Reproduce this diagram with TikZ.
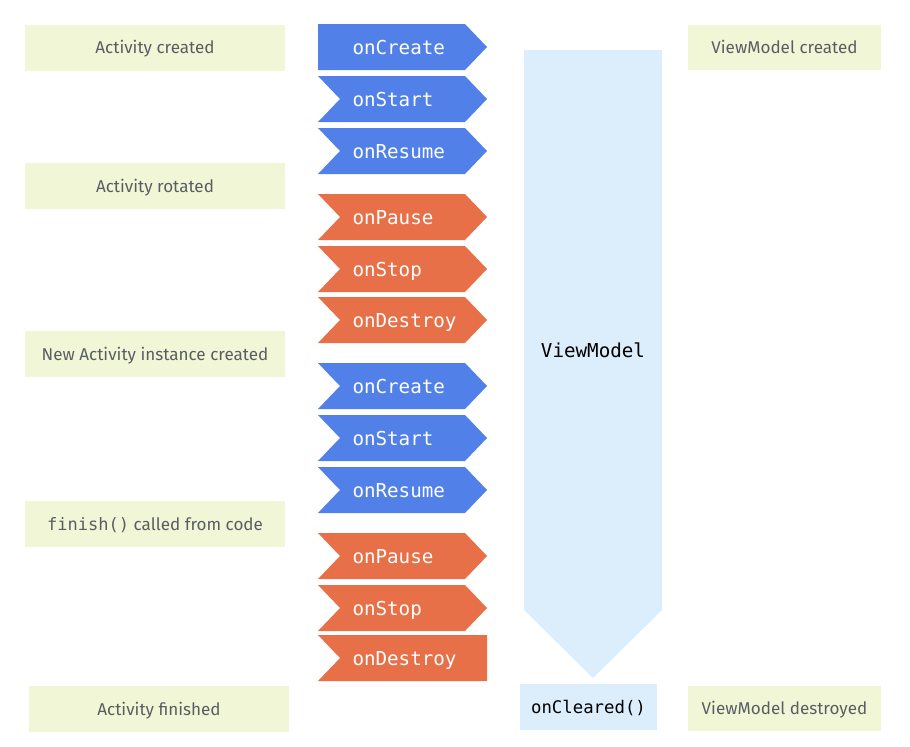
\documentclass[tikz,border=0pt]{standalone}
\usepackage{fontspec}
\setmainfont{Fira Sans}
\setmonofont{DejaVu Sans Mono}

\definecolor{cbBlue}{RGB}{80,128,232}
\definecolor{cbOrange}{RGB}{232,112,72}
\definecolor{cbGreen}{RGB}{241,246,214}
\definecolor{cbSky}{RGB}{220,238,252}
\definecolor{cbGrey}{RGB}{90,94,99}

\tikzset{every picture/.style={line width=0.75pt}}
\tikzset{
	eventBox/.style={fill=cbGreen, draw=none, minimum width=195pt, minimum height=34.5pt, inner sep=0pt, text=cbGrey, text height=0.9em, text depth=0em, font=\fontsize{12.8}{15}\selectfont},
	vmBox/.style={eventBox, minimum width=144.75pt, minimum height=33.75pt},
	stageText/.style={anchor=west, inner sep=0pt, text=white, text height=0.85em, text depth=0.03em, font=\ttfamily\fontsize{14.4}{16}\selectfont},
	clearedBox/.style={fill=cbSky, draw=none, minimum width=102.75pt, minimum height=34.5pt, inner sep=0pt, text height=0.9em, text depth=0em, font=\ttfamily\fontsize{13}{15}\selectfont}}

\begin{document}
\begin{tikzpicture}[x=0.75pt,y=0.75pt,yscale=-1,xscale=1]
	\useasboundingbox (0,0) rectangle (910,746);

	%Shape: ViewModel scope arrow
	\fill [cbSky] (524,50) -- (662,50) -- (662,610) -- (593,678) -- (524,610) -- cycle ;
	% Text Node
	\node [font=\ttfamily\fontsize{14.4}{16}\selectfont] (vm) at (593,350) {ViewModel};

	%Shape: lifecycle chevrons (y, label, colour, left notch, right tip)
	\foreach \yc/\lbl/\col/\ln/\rt [count=\i] in {
			47/onCreate/cbBlue/0/22, 99/onStart/cbBlue/22/22, 151/onResume/cbBlue/22/22,
			217/onPause/cbOrange/22/22, 269/onStop/cbOrange/22/22, 320/onDestroy/cbOrange/22/22,
			386/onCreate/cbBlue/22/22, 438/onStart/cbBlue/22/22, 490/onResume/cbBlue/22/22,
			556/onPause/cbOrange/22/22, 608/onStop/cbOrange/22/22, 658/onDestroy/cbOrange/22/0}{
		\fill [\col] (318,\yc-23) -- (487-\rt,\yc-23) -- (487,\yc) -- (487-\rt,\yc+23) -- (318,\yc+23) -- (318+\ln,\yc) -- cycle ;
		\node [stageText] (stage\i) at (352,\yc+2) {\lbl};
	}

	% Text Node
	\node [eventBox] (actCreated) at (155,47.5) {Activity created};
	% Text Node
	\node [eventBox] (actRotated) at (155,186) {Activity rotated};
	% Text Node
	\node [eventBox] (actNew) at (155,354) {New Activity instance created};
	% Text Node
	\node [eventBox] (actFinish) at (155,524) {\texttt{finish()} called from code};
	% Text Node
	\node [eventBox] (actFinished) at (159,709) {Activity finished};
	% Text Node
	\node [vmBox] (vmCreated) at (784.5,47.5) {ViewModel created};
	% Text Node
	\node [vmBox] (vmDestroyed) at (784.5,708.5) {ViewModel destroyed};
	% Text Node
	\node [clearedBox] (cleared) at (588.5,707) {onCleared()};

\end{tikzpicture}
\end{document}
